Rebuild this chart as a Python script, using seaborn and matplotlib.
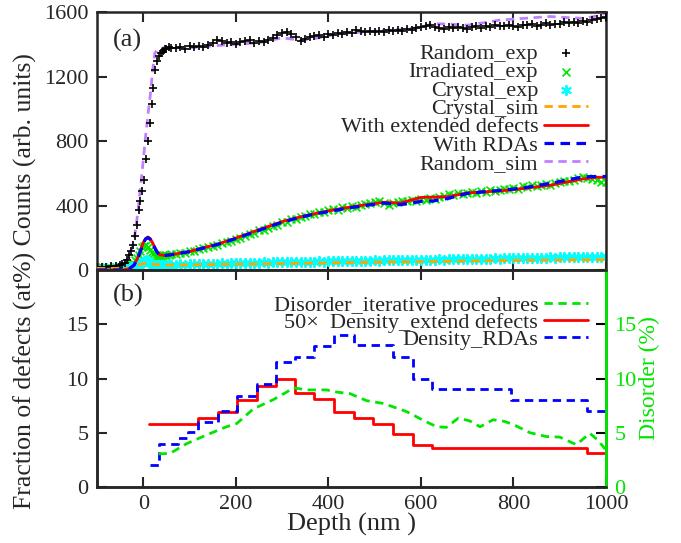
# Libraries
import numpy as np
import pandas as pd
import seaborn as sns
import matplotlib.pyplot as plt

# ---- data: panel (a), experimental spectra ----
depth_exp = [-100, -90, -80, -70, -60, -50, -45, -40, -35, -30,
             -26, -22, -18, -14, -10, -6, -2,
             2, 6, 10, 14, 18, 22, 26, 30, 34, 38, 42, 46, 50, 55, 60,
             70, 80, 90, 100, 110, 120, 130, 140, 150, 160,
             170, 180, 190, 200, 210, 220, 230, 240, 250, 260,
             270, 280, 290, 300, 310, 320, 330, 340, 350, 360,
             370, 380, 390, 400, 410, 420, 430, 440, 450, 460,
             470, 480, 490, 500, 510, 520, 530, 540, 550, 560,
             570, 580, 590, 600, 610, 620, 630, 640, 650, 660,
             670, 680, 690, 700, 710, 720, 730, 740, 750, 760,
             770, 780, 790, 800, 810, 820, 830, 840, 850, 860,
             870, 880, 890, 900, 910, 920, 930, 940, 950, 960,
             970, 980, 990, 1000]

random_exp = [18, 20, 17, 22, 25, 30, 38, 45, 62, 90,
              120, 155, 210, 280, 370, 430, 490,
              560, 690, 800, 910, 1030, 1130, 1240, 1295, 1325, 1345, 1360, 1368, 1372, 1380, 1376,
              1378, 1385, 1372, 1388, 1380, 1392, 1385, 1398, 1410, 1425,
              1418, 1405, 1412, 1402, 1415, 1420, 1425, 1408, 1420, 1412,
              1428, 1440, 1455, 1470, 1478, 1465, 1445, 1418, 1430, 1445,
              1450, 1458, 1448, 1462, 1455, 1470, 1462, 1478, 1470, 1488,
              1480, 1475, 1485, 1478, 1482, 1475, 1488, 1480, 1490, 1485,
              1495, 1490, 1500, 1505, 1512, 1518, 1510, 1500, 1495, 1505,
              1498, 1508, 1500, 1495, 1505, 1512, 1500, 1515, 1508, 1520,
              1515, 1512, 1522, 1515, 1510, 1520, 1518, 1525, 1515, 1522,
              1530, 1520, 1528, 1525, 1535, 1530, 1538, 1532, 1545, 1540,
              1548, 1555, 1562, 1570]

irradiated_exp = [14, 16, 13, 15, 17, 16, 18, 20, 22, 28,
                  35, 45, 60, 75, 95, 115, 140,
                  150, 155, 140, 125, 110, 100, 92, 88, 85, 88, 90, 92, 95, 96, 98,
                  100, 108, 104, 115, 120, 128, 135, 140, 150, 155,
                  165, 172, 180, 195, 200, 212, 222, 228, 245, 250,
                  262, 270, 282, 295, 300, 315, 318, 330, 335, 345,
                  350, 362, 360, 372, 378, 375, 390, 385, 395, 392,
                  405, 410, 418, 420, 428, 415, 405, 418, 422, 428,
                  425, 435, 430, 440, 435, 445, 440, 450, 462, 470,
                  465, 478, 472, 480, 485, 478, 490, 485, 495, 490,
                  498, 505, 500, 510, 505, 518, 515, 525, 520, 530,
                  535, 528, 540, 545, 550, 555, 560, 570, 575, 568,
                  565, 560, 548, 545]

crystal_exp = [12, 13, 11, 12, 14, 12, 13, 14, 14, 15,
               17, 20, 24, 28, 32, 40, 46,
               55, 60, 56, 46, 38, 33, 31, 29, 30, 31, 32, 31, 33, 32, 34,
               33, 35, 34, 36, 35, 38, 37, 39, 38, 40,
               41, 40, 42, 44, 43, 45, 44, 46, 45, 47,
               46, 48, 47, 49, 48, 50, 49, 51, 50, 52,
               51, 53, 52, 54, 53, 55, 54, 56, 55, 57,
               56, 58, 57, 59, 58, 60, 59, 61, 60, 62,
               61, 63, 62, 64, 63, 65, 64, 66, 65, 67,
               66, 68, 67, 69, 68, 70, 69, 71, 70, 72,
               71, 73, 72, 74, 73, 75, 74, 76, 75, 77,
               76, 78, 77, 79, 78, 80, 79, 81, 80, 82,
               81, 83, 82, 84]

# ---- data: panel (a), simulated spectra ----
depth_sim = [-100, -60, -40, -30, -20, -12, -5, 0, 5, 10, 15, 20, 25, 30, 35, 45,
             60, 80, 100, 130, 160, 200, 250, 300, 340, 380, 425, 470, 520, 555,
             600, 626, 660, 700, 740, 771, 820, 879, 920, 951, 980, 1000]

random_sim = [18, 25, 45, 80, 180, 352, 540, 680, 830, 960, 1080, 1230, 1345, 1365, 1372, 1378,
              1376, 1380, 1378, 1385, 1392, 1400, 1410, 1440, 1425, 1440, 1468, 1475, 1485, 1490,
              1505, 1528, 1525, 1518, 1535, 1550, 1560, 1572, 1565, 1560, 1575, 1595]

crystal_sim = [10, 10, 10, 12, 18, 28, 36, 40, 42, 43, 40, 37, 35, 33, 32, 31,
               31, 31, 32, 33, 34, 36, 38, 40, 42, 43, 45, 47, 49, 50,
               52, 53, 54, 56, 57, 58, 60, 61, 62, 63, 63, 64]

extended_sim = [0, 0, 2, 8, 30, 75, 130, 170, 195, 205, 195, 170, 140, 112, 95, 90,
                95, 105, 115, 138, 160, 198, 250, 300, 330, 355, 380, 400, 420, 415,
                450, 452, 455, 478, 485, 490, 505, 525, 548, 565, 575, 575]

rdas_sim = [0, 0, 2, 8, 30, 72, 126, 166, 192, 200, 190, 166, 136, 110, 94, 90,
            94, 104, 114, 136, 158, 195, 246, 296, 328, 352, 375, 396, 415, 405,
            425, 428, 445, 475, 486, 494, 508, 537, 560, 578, 580, 580]

# ---- data: panel (b) ----
edges_ext = [13, 119, 161, 203, 245, 287, 327, 370, 412, 455, 497, 540, 582, 623, 960, 1000]
dens_ext = [5.8, 6.35, 6.9, 8.05, 9.35, 10.0, 8.7, 8.1, 6.9, 6.35, 5.85, 4.85, 3.9, 3.55, 3.15, 3.15]

edges_rda = [14, 33, 76, 97, 119, 161, 203, 245, 287, 327, 370, 412, 455, 540, 582, 623, 795, 960, 1000]
dens_rda = [2.0, 4.0, 4.5, 5.05, 6.0, 7.0, 8.4, 9.5, 11.5, 12.0, 13.0, 14.0, 13.05, 12.0, 10.0, 9.0, 8.0, 7.0, 7.0]

depth_dis = [33, 58, 94, 137, 180, 202, 238, 281, 310, 324, 353, 396, 418, 447, 483, 519,
             569, 605, 634, 655, 681, 705, 728, 756, 780, 800, 836, 871, 900, 936, 965, 983, 998]
disorder = [3.05, 3.1, 4.0, 4.8, 5.55, 5.85, 7.2, 8.05, 8.75, 9.15, 8.95, 8.95, 8.75, 8.6, 7.95, 7.7,
            6.95, 6.15, 5.55, 5.5, 6.35, 6.1, 5.55, 6.2, 6.05, 5.75, 5.0, 4.65, 4.6, 3.9, 4.95, 4.3, 3.5]

# colours
GREEN = "#00e600"
PURPLE = "#c080ff"

# style
sns.set_style("ticks")
plt.rcParams['font.family'] = ['Liberation Serif', 'DejaVu Serif']
plt.rcParams['font.size'] = 16
plt.rcParams['axes.linewidth'] = 1.8

fig = plt.figure(figsize=(6.81, 5.43), dpi=100)
ax1 = fig.add_axes([97/681, 1-270/543, 509/681, 258/543])
ax2 = fig.add_axes([97/681, 1-487/543, 509/681, 217/543])
ax3 = ax2.twinx()

## Panel (a)
exp = pd.DataFrame({"depth": depth_exp, "random": random_exp,
                    "irr": irradiated_exp, "crys": crystal_exp})
sim = pd.DataFrame({"depth": depth_sim, "random": random_sim, "crys": crystal_sim,
                    "ext": extended_sim, "rda": rdas_sim})

sns.scatterplot(data=exp, x="depth", y="random", ax=ax1, marker="+", color="black",
                s=40, linewidth=1.2, label="Random_exp", zorder=3)
sns.scatterplot(data=exp, x="depth", y="irr", ax=ax1, marker="x", color=GREEN,
                s=32, linewidth=1.2, label="Irradiated_exp", zorder=2)
sns.scatterplot(data=exp, x="depth", y="crys", ax=ax1, marker=(6, 2, 0), color="cyan",
                s=45, linewidth=1.4, label="Crystal_exp", zorder=2)
sns.lineplot(data=sim, x="depth", y="crys", ax=ax1, color="#ffa500", lw=2,
             linestyle=(0, (3, 2)), label="Crystal_sim", zorder=4)
sns.lineplot(data=sim, x="depth", y="ext", ax=ax1, color="red", lw=2,
             label="With extended defects", zorder=4)
sns.lineplot(data=sim, x="depth", y="rda", ax=ax1, color="blue", lw=2.3,
             linestyle=(0, (3, 2)), label="With RDAs", zorder=5)
sns.lineplot(data=sim, x="depth", y="random", ax=ax1, color=PURPLE, lw=2,
             linestyle=(0, (3, 2)), label="Random_sim", zorder=2)

ax1.set_xlim(-100, 1000)
ax1.set_ylim(0, 1600)
ax1.set_xticks([0, 200, 400, 600, 800, 1000])
ax1.set_yticks([0, 400, 800, 1200, 1600])
ax1.set_xlabel("")
ax1.set_ylabel("")
ax1.tick_params(direction="in", length=7, width=1.5, top=True, right=True,
                labelbottom=False, labelsize=16, pad=6)
ax1.text(0.031, 0.888, "(a)", transform=ax1.transAxes, fontsize=19, va="center")
ax1.legend(loc="upper right", bbox_to_anchor=(0.965, 0.878), frameon=False,
           markerfirst=False, handlelength=2.0, handletextpad=0.25,
           labelspacing=-0.1, borderpad=0, borderaxespad=0, fontsize=16)

## Panel (b)
ext = pd.DataFrame({"depth": edges_ext, "val": dens_ext})
rda = pd.DataFrame({"depth": edges_rda, "val": dens_rda})
dis = pd.DataFrame({"depth": depth_dis, "val": disorder})

sns.lineplot(data=dis, x="depth", y="val", ax=ax3, color=GREEN, lw=2,
             linestyle=(0, (3, 2)), label="Disorder_iterative procedures", legend=False)
sns.lineplot(data=ext, x="depth", y="val", ax=ax2, color="red", lw=2,
             drawstyle="steps-post", estimator=None, label="50\u00d7  Density_extend defects",
             legend=False)
sns.lineplot(data=rda, x="depth", y="val", ax=ax2, color="blue", lw=2,
             drawstyle="steps-post", estimator=None, linestyle=(0, (3, 2)),
             label="Density_RDAs", legend=False)

ax2.set_xlim(-100, 1000)
ax2.set_ylim(0, 20)
ax3.set_ylim(0, 20)
ax2.set_xticks([0, 200, 400, 600, 800, 1000])
ax2.set_yticks([0, 5, 10, 15])
ax3.set_yticks([0, 5, 10, 15])
ax2.set_xlabel("Depth (nm )", fontsize=19, labelpad=-1)
ax2.set_ylabel("")
ax3.set_ylabel("Disorder (%)", color=GREEN, fontsize=17, labelpad=2)
ax2.tick_params(direction="in", length=7, width=1.5, top=True, right=False,
                labelsize=16, pad=6)
ax3.tick_params(direction="in", length=7, width=1.5, colors="black",
                labelcolor=GREEN, labelsize=16, pad=6)
ax3.spines["right"].set_color(GREEN)
ax3.spines["right"].set_linewidth(2)
ax2.text(0.031, 0.885, "(b)", transform=ax2.transAxes, fontsize=19, va="center")

handles = ax3.get_lines()[:1] + ax2.get_lines()[:2]
labels = [h.get_label() for h in handles]
ax2.legend(handles, labels, loc="upper right", bbox_to_anchor=(0.965, 0.885), frameon=False,
           markerfirst=False, handlelength=2.0, handletextpad=0.25,
           labelspacing=-0.15, borderpad=0, borderaxespad=0, fontsize=16)

## shared left label
fig.text(25/681, 0.482, "Fraction of defects (at%) Counts (arb. units)", rotation=90,
         ha="center", va="center", fontsize=18.5)

plt.savefig("out.png", dpi=100)
